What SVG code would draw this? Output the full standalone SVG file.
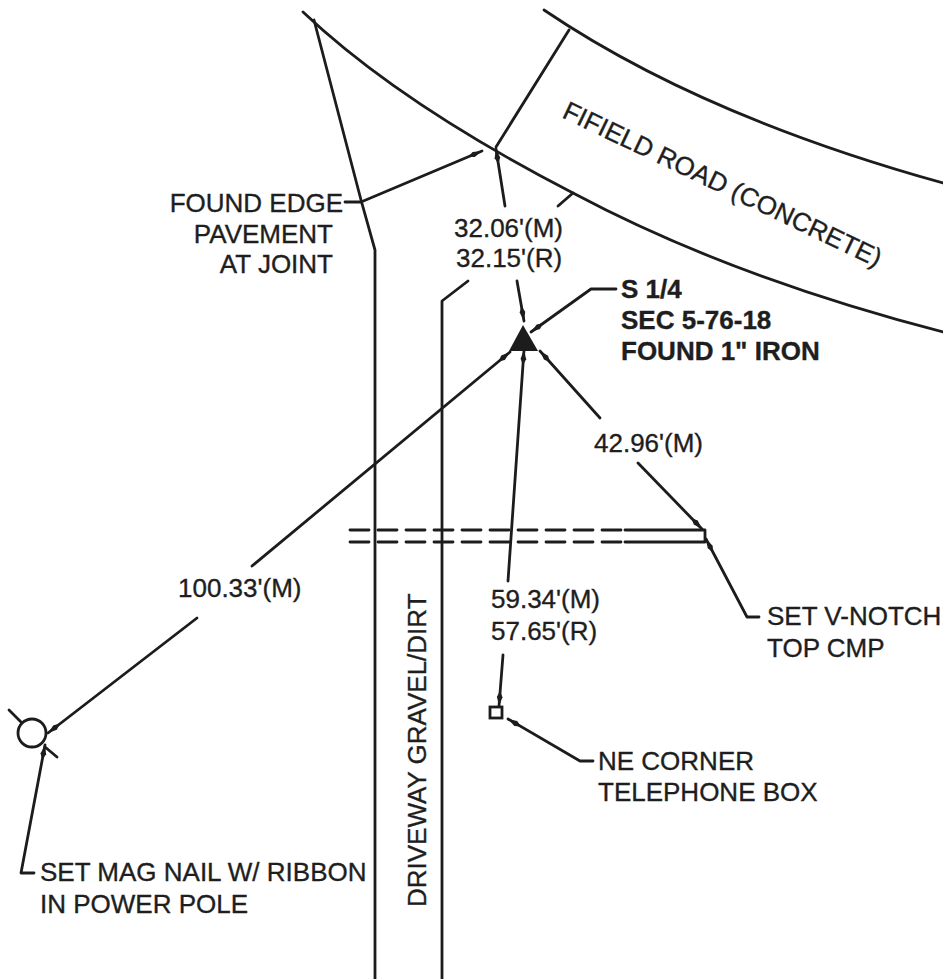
<svg xmlns="http://www.w3.org/2000/svg" width="943" height="979" viewBox="0 0 943 979">
<style>
.l{fill:none;stroke:#1c1c1c;stroke-width:2.8;stroke-linecap:round;stroke-linejoin:round}
.t{font-family:"Liberation Sans",Arial,sans-serif;font-size:26px;fill:#1e1e1e;stroke:#1e1e1e;stroke-width:.35}
.b{font-weight:bold}
.e{text-anchor:end}
</style>
<defs>
<marker id="a" markerUnits="userSpaceOnUse" markerWidth="16" markerHeight="8" refX="0" refY="0" orient="auto" overflow="visible">
<path d="M0 0 L-9 -2.8 L-15 0 L-9 2.8 Z" fill="#1c1c1c"/>
</marker>
</defs>
<rect width="943" height="979" fill="#fff"/>
<g id="connectors">
<path class="l" d="M303 12 C380 85 480 145 573 193 C680 250 800 295 943 332"/>
<path class="l" d="M544 10 C640 75 770 135 943 183"/>
<path class="l" d="M569 30 L496 147"/>
<path class="l" d="M314 20 L361 200 L375 250 V979"/>
<path class="l" d="M345 202 H361 L482 151" marker-end="url(#a)"/>
<path class="l" d="M505 206 L496 149" marker-end="url(#a)"/>
<path class="l" d="M558 206 L573 193"/>
<path class="l" d="M468 281 L442 301 V979"/>
<path class="l" d="M517 281 L524 321" marker-end="url(#a)"/>
<path class="l" d="M616 289 H591 L531 332" marker-end="url(#a)"/>
<path class="l" d="M252 566 L510 352" marker-end="url(#a)"/>
<path class="l" d="M197 618 L48 733" marker-end="url(#a)"/>
<path class="l" d="M508 581 L524 350" marker-end="url(#a)"/>
<path class="l" d="M600 418 L540 351" marker-end="url(#a)"/>
<path class="l" d="M638 463 L702 529" marker-end="url(#a)"/>
<path class="l" d="M759 617 H747 L706 539" marker-end="url(#a)"/>
<path class="l" d="M503 655 L499 706" marker-end="url(#a)"/>
<path class="l" d="M593 761 H580 L508 719" marker-end="url(#a)"/>
<path class="l" d="M34 873 H21 L45 745" marker-end="url(#a)"/>
<path class="l" d="M350 530 H625 M350 542 H625" stroke-dasharray="19 9" stroke-linecap="butt"/>
<path class="l" d="M625 530 H705 V542 H625"/>
</g>
<g id="node-road"><text class="t" transform="translate(561 117) rotate(25.5)">FIFIELD ROAD (CONCRETE)</text></g>
<g id="node-edge"><text class="t e" x="343" y="212">FOUND EDGE</text><text class="t e" x="333" y="243">PAVEMENT</text><text class="t e" x="333" y="273">AT JOINT</text></g>
<g id="node-3206"><text class="t" x="454" y="237">32.06'(M)</text><text class="t" x="456" y="267">32.15'(R)</text></g>
<g id="node-s14"><text class="t b" x="621" y="298">S 1/4</text><text class="t b" x="621" y="329">SEC 5-76-18</text><text class="t b" x="621" y="360">FOUND 1" IRON</text></g>
<g id="node-iron"><path d="M523 325 L538 351 H509 Z" fill="#1c1c1c"/></g>
<g id="node-4296"><text class="t" x="594" y="452">42.96'(M)</text></g>
<g id="node-10033"><text class="t" x="178" y="597">100.33'(M)</text></g>
<g id="node-5934"><text class="t" x="491" y="608">59.34'(M)</text><text class="t" x="491" y="640">57.65'(R)</text></g>
<g id="node-notch"><text class="t" x="767" y="625">SET V-NOTCH</text><text class="t" x="767" y="657">TOP CMP</text></g>
<g id="node-box"><rect x="490" y="707" width="12" height="11" fill="none" stroke="#1c1c1c" stroke-width="2.8"/><text class="t" x="598" y="770">NE CORNER</text><text class="t" x="598" y="801">TELEPHONE BOX</text></g>
<g id="node-pole"><circle cx="32" cy="733" r="14" fill="none" stroke="#1c1c1c" stroke-width="2.8"/><path class="l" d="M9 710 L21 722 M45 747 L57 757"/><text class="t" x="40" y="881">SET MAG NAIL W/ RIBBON</text><text class="t" x="40" y="913">IN POWER POLE</text></g>
<g id="node-drive"><text class="t" transform="translate(426 907) rotate(-90)">DRIVEWAY GRAVEL/DIRT</text></g>
</svg>
